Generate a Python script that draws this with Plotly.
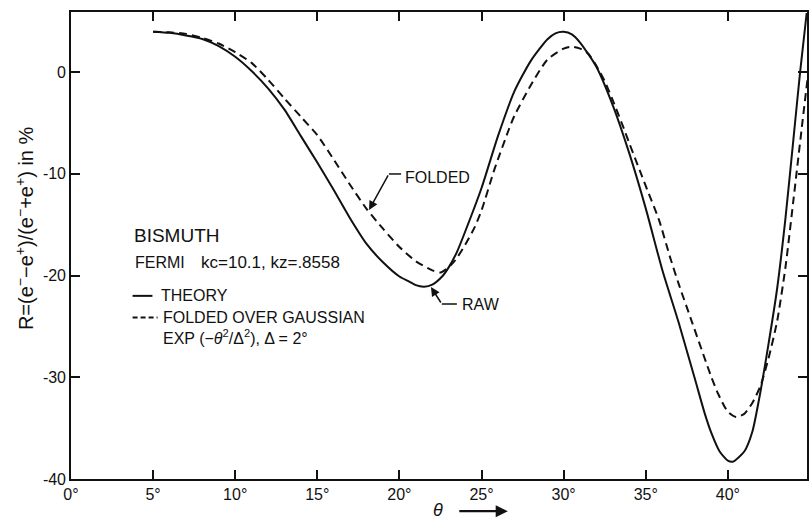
import plotly.graph_objects as go

# ---- data ----
theory_theta = [5, 6, 7, 8, 9, 10, 11, 12, 13, 14, 15, 16, 17, 18, 19, 20, 20.6, 21, 21.5, 22, 22.6,
                23, 23.5, 24, 25, 26, 27, 28, 29, 29.5, 30, 30.5, 31, 32, 33, 34, 35, 36, 37, 38, 38.6,
                39, 39.5, 40, 40.3, 41, 41.5, 42, 42.5, 43, 43.5, 44, 44.4, 44.8]
theory_R = [3.96, 3.85, 3.6, 3.25, 2.55, 1.5, 0.1, -1.6, -3.7, -6.3, -8.9, -11.6, -14.4, -16.9, -18.7,
            -20.1, -20.6, -20.95, -21.1, -20.9, -20.1, -19.2, -17.7, -15.7, -11.4, -6.3, -1.9, 1.1, 3.2,
            3.8, 3.95, 3.7, 2.9, 0.5, -3.3, -8.0, -13.4, -19.4, -24.6, -30.2, -33.6, -35.5, -37.3, -38.2,
            -38.3, -37.3, -35.3, -31.3, -26.5, -21.3, -14.5, -6.5, 0.0, 5.8]

folded_theta = [5, 6, 7, 8, 9, 10, 11, 12, 13, 14, 15, 16, 17, 18, 19, 20, 21, 22, 22.5, 23, 23.4, 24,
                24.6, 25, 25.8, 26.65, 27, 28, 29, 30, 30.5, 31, 31.5, 32, 32.5, 33, 33.7, 34, 35, 35.8,
                36.5, 37, 37.8, 39, 39.4, 40, 40.5, 41, 41.5, 42, 42.5, 43, 43.5, 44, 44.5, 44.9]
folded_R = [3.96, 3.9, 3.75, 3.35, 2.8, 1.95, 0.9, -0.75, -2.6, -4.4, -6.2, -8.6, -11.1, -13.45, -15.4,
            -17.2, -18.6, -19.5, -19.7, -19.2, -18.5, -17.0, -15.2, -13.6, -9.5, -5.7, -4.3, -1.3, 1.2,
            2.3, 2.5, 2.3, 1.8, 0.6, -0.9, -2.8, -5.7, -7.0, -11.2, -14.5, -18.3, -20.8, -24.5, -30.0,
            -31.6, -33.4, -33.9, -33.6, -32.5, -30.8, -28.0, -24.5, -19.3, -12.5, -5.5, 0.0]

x_tick_vals = [0, 5, 10, 15, 20, 25, 30, 35, 40]
x_tick_text = ["0°", "5°", "10°", "15°", "20°", "25°", "30°", "35°", "40°"]
y_tick_vals = [-40, -30, -20, -10, 0]
y_tick_text = ["-40", "-30", "-20", "-10", "0"]

FONT = "Liberation Sans, Arial, sans-serif"
BLACK = "#111111"

fig = go.Figure()
fig.add_trace(go.Scatter(x=theory_theta, y=theory_R, mode="lines", name="THEORY",
                         line=dict(color=BLACK, width=2, shape="spline", smoothing=0.6),
                         showlegend=False))
fig.add_trace(go.Scatter(x=folded_theta, y=folded_R, mode="lines", name="FOLDED",
                         line=dict(color=BLACK, width=2, dash="8px,5px", shape="spline", smoothing=0.6),
                         showlegend=False))

annotations = []

def txt(x, y, s, size=16, xanchor="left"):
    annotations.append(dict(x=x, y=y, xref="x", yref="y", text=s, showarrow=False,
                            xanchor=xanchor, yanchor="middle",
                            font=dict(family=FONT, size=size, color=BLACK)))

txt(3.69, -16.07, "BISMUTH", size=19)
txt(3.75, -18.72, "FERMI", size=16)
txt(7.82, -18.72, "kc=10.1, kz=.8558", size=17)
txt(5.33, -22.0, "THEORY", size=16)
txt(5.51, -24.13, "FOLDED OVER GAUSSIAN", size=16)
txt(5.51, -26.0, "EXP (−<i>θ</i><sup>2</sup>/Δ<sup>2</sup>), Δ = 2°", size=16)
txt(20.2, -10.32, "FOLDED", size=16)
txt(23.68, -22.8, "RAW", size=16)

# leader arrows
annotations.append(dict(x=18.15, y=-13.56, ax=19.36, ay=-10.02, xref="x", yref="y", axref="x", ayref="y",
                        text="", showarrow=True, arrowhead=2, arrowsize=1.2, arrowwidth=1.5,
                        arrowcolor=BLACK))
annotations.append(dict(x=21.92, y=-21.13, ax=22.58, ay=-22.8, xref="x", yref="y", axref="x", ayref="y",
                        text="", showarrow=True, arrowhead=2, arrowsize=1.2, arrowwidth=1.5,
                        arrowcolor=BLACK))

# x-axis label theta with arrow
annotations.append(dict(x=22.36, y=-0.066, xref="x", yref="paper", text="<i>θ</i>", showarrow=False,
                        xanchor="center", yanchor="middle",
                        font=dict(family=FONT, size=18, color=BLACK)))
annotations.append(dict(x=26.6, y=-0.069, xref="x", yref="paper", ax=-50, ay=0, text="",
                        showarrow=True, arrowhead=2, arrowsize=1.1, arrowwidth=2.2, arrowcolor=BLACK))

# y-axis title
annotations.append(dict(x=-0.064, y=0.537, xref="paper", yref="paper",
                        text="R=(e<sup>−</sup>−e<sup>+</sup>)/(e<sup>−</sup>+e<sup>+</sup>) in %",
                        showarrow=False, textangle=-90, xanchor="center", yanchor="middle",
                        font=dict(family=FONT, size=20, color=BLACK)))

shapes = [
    # legend sample lines
    dict(type="line", xref="x", yref="y", x0=3.75, x1=4.96, y0=-22.0, y1=-22.0,
         line=dict(color=BLACK, width=2)),
    dict(type="line", xref="x", yref="y", x0=3.75, x1=5.27, y0=-24.13, y1=-24.13,
         line=dict(color=BLACK, width=2, dash="5px,3px")),
    # horizontal leader parts
    dict(type="line", xref="x", yref="y", x0=19.36, x1=20.1, y0=-10.02, y1=-10.02,
         line=dict(color=BLACK, width=1.5)),
    dict(type="line", xref="x", yref="y", x0=22.58, x1=23.5, y0=-22.8, y1=-22.8,
         line=dict(color=BLACK, width=1.5)),
]

axis_common = dict(showline=True, linecolor=BLACK, linewidth=1.6, mirror="ticks",
                   ticks="inside", tickcolor=BLACK, tickwidth=1.5, ticklen=9,
                   showgrid=False, zeroline=False,
                   tickfont=dict(family=FONT, size=16, color=BLACK))

fig.update_layout(
    width=810, height=520,
    margin=dict(l=71, r=1, t=12, b=41),
    paper_bgcolor="white", plot_bgcolor="white",
    xaxis=dict(range=[0, 44.82], tickvals=x_tick_vals, ticktext=x_tick_text, **axis_common),
    yaxis=dict(range=[-40, 5.9], tickvals=y_tick_vals, ticktext=y_tick_text, **axis_common),
    annotations=annotations, shapes=shapes,
)

fig.write_html("out.html", config={"displayModeBar": False},
               post_script="document.body.style.margin='0';document.body.style.overflow='hidden';")
